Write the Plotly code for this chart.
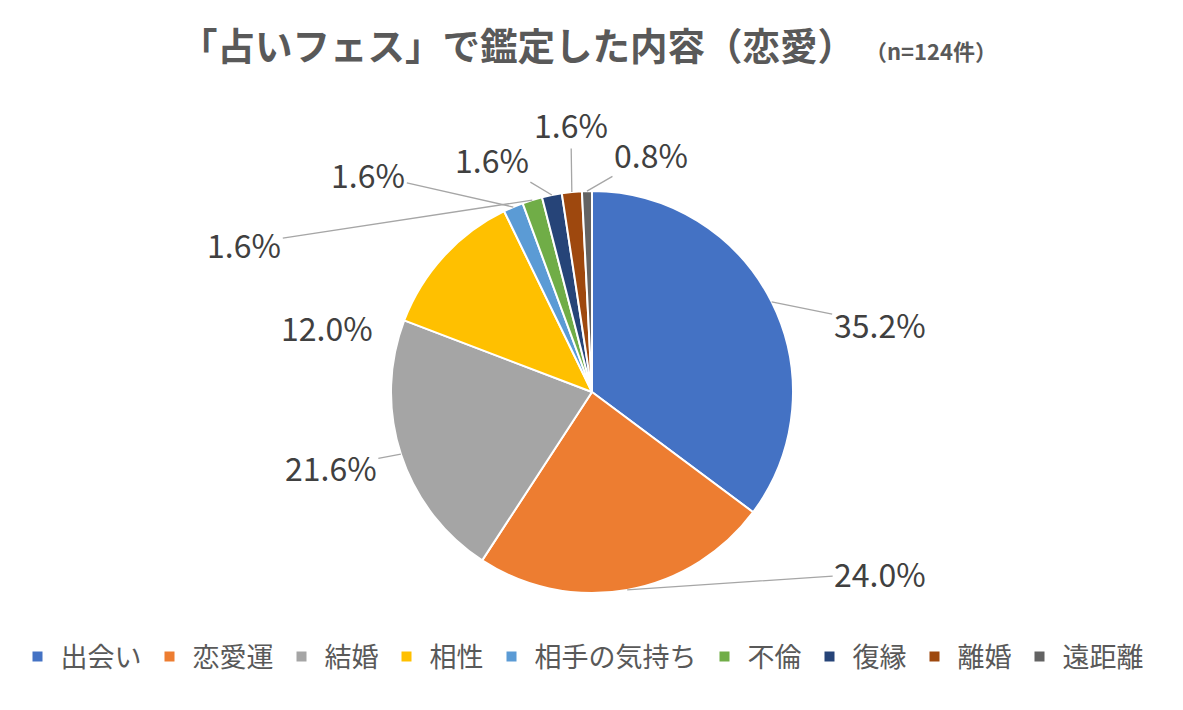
import math
import plotly.graph_objects as go

# 占いフェスで鑑定した内容（恋愛）
categories = ["出会い", "恋愛運", "結婚", "相性", "相手の気持ち", "不倫", "復縁", "離婚", "遠距離"]
counts = [44, 30, 27, 15, 2, 2, 2, 2, 1]
colors = ["#4472C4", "#ED7D31", "#A5A5A5", "#FFC000", "#5B9BD5",
          "#70AD47", "#264478", "#9E480E", "#636363"]

# page body has an 8px margin, so the figure is drawn 8px smaller
W, H = 1175, 702
cx, cy, r = 584, 384, 201   # pie centre / radius in pixels

# label offsets (pixels from slice edge) and whether a leader line is drawn
label_off = [(108, 22), (253, -17), (-70, 13), (-117, 71), (-145, -33),
             (-288, 44), (-60, -36), (-1, -68), (64, -37)]
leader = [True, True, True, False, True, True, True, True, True]

fig = go.Figure(go.Pie(
    labels=categories,
    values=counts,
    sort=False,
    direction="clockwise",
    rotation=0,
    marker=dict(colors=colors, line=dict(color="white", width=2)),
    textinfo="none",
    hoverinfo="label+percent",
    domain=dict(x=[(cx - r) / W, (cx + r) / W], y=[(H - cy - r) / H, (H - cy + r) / H]),
))

total = sum(counts)
annotations = []
cum = 0
for i, v in enumerate(counts):
    mid = (cum + v / 2) / total * 2 * math.pi
    cum += v
    px_ = cx + r * math.sin(mid)
    py_ = cy - r * math.cos(mid)
    ax, ay = label_off[i]
    annotations.append(dict(
        x=px_ / W, y=1 - py_ / H, xref="paper", yref="paper",
        text=f"{v / total * 100:.1f}%",
        showarrow=True, ax=ax, ay=ay, arrowhead=0, arrowwidth=1.3,
        arrowcolor="#A6A6A6" if leader[i] else "rgba(0,0,0,0)",
        standoff=0, startstandoff=0,
        font=dict(size=32, color="#404040"),
    ))

fig.update_layout(
    width=W, height=H,
    margin=dict(l=0, r=0, t=0, b=0),
    paper_bgcolor="white",
    font=dict(family="Noto Sans CJK JP", color="#595959"),
    title=dict(
        text="<b>「占いフェス」で鑑定した内容（恋愛）</b><span style='font-size:22px'><b>  （n=124件）</b></span>",
        x=0.5 - 7 / W, xanchor="center", y=1 - 39 / H, yanchor="middle",
        font=dict(size=37.5, color="#595959"),
    ),
    legend=dict(
        orientation="h", x=0.5 - 14 / W, xanchor="center", y=(H - 649) / H, yanchor="middle",
        font=dict(size=27, color="#595959"), itemwidth=36, traceorder="normal",
    ),
    annotations=annotations,
)

fig.write_html("out.html")
